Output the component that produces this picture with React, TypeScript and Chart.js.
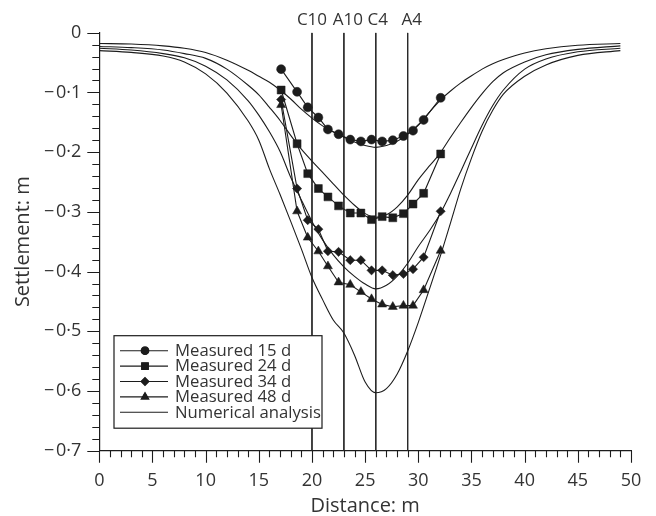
import React, { useEffect, useRef } from 'react';
import { Chart, registerables } from 'chart.js';
import { drawPoint } from 'chart.js/helpers';

Chart.register(...registerables);

// ---- data ----
const measuredX = [17.1, 18.6, 19.6, 20.6, 21.5, 22.5, 23.6, 24.6, 25.6, 26.6, 27.6, 28.6, 29.5, 30.5, 32.1];
const measured15 = [-0.061, -0.099, -0.125, -0.142, -0.162, -0.170, -0.179, -0.182, -0.179, -0.182, -0.180, -0.173, -0.164, -0.146, -0.109];
const measured24 = [-0.096, -0.186, -0.236, -0.261, -0.275, -0.290, -0.302, -0.302, -0.313, -0.308, -0.310, -0.303, -0.287, -0.269, -0.203];
const measured34 = [-0.112, -0.261, -0.314, -0.329, -0.366, -0.367, -0.381, -0.381, -0.398, -0.398, -0.406, -0.404, -0.396, -0.376, -0.299];
const measured48 = [-0.121, -0.299, -0.343, -0.366, -0.391, -0.418, -0.422, -0.434, -0.446, -0.455, -0.459, -0.457, -0.457, -0.431, -0.365];

const numX = [0, 3, 6, 8, 10, 12, 14, 15, 16, 17, 18, 19, 20, 21, 22, 23, 24, 25, 26, 27, 28, 29, 30, 31, 32, 33, 34, 35, 36, 37, 38, 40, 42, 45, 49];
const num15 = [-0.018, -0.019, -0.022, -0.026, -0.033, -0.046, -0.063, -0.073, -0.083, -0.096, -0.111, -0.128, -0.143, -0.156, -0.166, -0.175, -0.183, -0.189, -0.192, -0.189, -0.182, -0.170, -0.154, -0.134, -0.114, -0.098, -0.084, -0.072, -0.061, -0.052, -0.045, -0.034, -0.027, -0.021, -0.018];
const num24 = [-0.023, -0.025, -0.029, -0.035, -0.043, -0.061, -0.088, -0.104, -0.125, -0.147, -0.172, -0.195, -0.215, -0.234, -0.253, -0.272, -0.289, -0.303, -0.309, -0.305, -0.292, -0.272, -0.246, -0.224, -0.203, -0.176, -0.150, -0.125, -0.102, -0.082, -0.067, -0.049, -0.037, -0.028, -0.022];
const num34 = [-0.026, -0.029, -0.035, -0.042, -0.056, -0.079, -0.114, -0.138, -0.166, -0.199, -0.242, -0.280, -0.316, -0.347, -0.372, -0.392, -0.408, -0.421, -0.429, -0.423, -0.408, -0.386, -0.358, -0.333, -0.305, -0.270, -0.232, -0.193, -0.155, -0.122, -0.096, -0.061, -0.044, -0.032, -0.026];
const num48 = [-0.030, -0.033, -0.039, -0.049, -0.069, -0.101, -0.148, -0.180, -0.228, -0.271, -0.316, -0.362, -0.410, -0.447, -0.481, -0.503, -0.540, -0.585, -0.603, -0.596, -0.572, -0.533, -0.485, -0.432, -0.378, -0.320, -0.261, -0.210, -0.165, -0.130, -0.103, -0.073, -0.054, -0.038, -0.030];

const refX = [20, 23, 26, 29];
const refLabels = ['C10', 'A10', 'C4', 'A4'];
const refSpan = [0, -0.7];

const legendLabels = ['Measured 15 d', 'Measured 24 d', 'Measured 34 d', 'Measured 48 d', 'Numerical analysis'];
const seriesStyles = ['circle', 'rect', 'rectRot', 'triangle'];
const seriesRadius = [4.5, 5.6, 4.6, 5.2];

const xMin = 0, xMax = 50, xStep = 1, xLabelEvery = 5;
const yMin = -0.7, yMax = 0, yStep = 0.02;

// ---- styles ----
const FONT = '"Open Sans", "Noto Sans", sans-serif';
const INK = '#1c1c1c';
const TEXT = '#333333';
const REF_LABEL_SHIFT = [0, 4, 2, 4];

const toPts = (xs: number[], ys: number[]) => xs.map((x, i) => ({ x, y: ys[i] }));

function yLabel(v: number): string {
  const r = Math.round(v * 100);
  if (r % 10 !== 0) return '';
  if (r === 0) return '0';
  return '\u2212\u200A0\u00B7' + Math.abs(r / 10);
}
function xLabel(v: number): string {
  const r = Math.round(v);
  return r % xLabelEvery === 0 ? String(r) : '';
}

const tickPlugin = {
  id: 'customTicks',
  afterDraw(chart: any) {
    const { ctx } = chart;
    const xs = chart.scales.x;
    const ys = chart.scales.y;
    ctx.save();
    ctx.strokeStyle = INK;
    ctx.lineWidth = 1.1;
    ctx.beginPath();
    xs.ticks.forEach((t: any) => {
      const px = Math.round(xs.getPixelForValue(t.value)) + 0.5;
      const len = xLabel(t.value) ? 12 : 6.5;
      ctx.moveTo(px, xs.top);
      ctx.lineTo(px, xs.top + len);
    });
    ys.ticks.forEach((t: any) => {
      const py = Math.round(ys.getPixelForValue(t.value)) + 0.5;
      const len = yLabel(t.value) ? 12 : 7;
      ctx.moveTo(ys.right, py);
      ctx.lineTo(ys.right - len, py);
    });
    ctx.stroke();
    ctx.restore();
  },
};

const overlayPlugin = {
  id: 'overlay',
  afterDatasetsDraw(chart: any) {
    const { ctx, chartArea } = chart;
    const xs = chart.scales.x;
    ctx.save();
    // reference line labels
    ctx.fillStyle = TEXT;
    ctx.font = `17px ${FONT}`;
    ctx.textAlign = 'center';
    ctx.textBaseline = 'middle';
    refX.forEach((x, i) => {
      ctx.fillText(refLabels[i], xs.getPixelForValue(x) + REF_LABEL_SHIFT[i], chartArea.top - 13);
    });
    // legend box
    const left = chartArea.left + 14.7;
    const top = chartArea.bottom - 115;
    const w = 208;
    const h = 92.5;
    ctx.fillStyle = '#ffffff';
    ctx.fillRect(left, top, w, h);
    ctx.strokeStyle = INK;
    ctx.lineWidth = 1.2;
    ctx.strokeRect(left, top, w, h);
    legendLabels.forEach((lab, i) => {
      const cy = top + 15 + i * 15.4;
      ctx.strokeStyle = INK;
      ctx.lineWidth = 1.1;
      ctx.beginPath();
      ctx.moveTo(left + 6, cy);
      ctx.lineTo(left + 54, cy);
      ctx.stroke();
      if (i < seriesStyles.length) {
        ctx.fillStyle = INK;
        drawPoint(ctx, { pointStyle: seriesStyles[i] as any, radius: seriesRadius[i] * 0.85, borderWidth: 1, rotation: 0 } as any, left + 31, cy);
        ctx.fill();
      }
      ctx.fillStyle = TEXT;
      ctx.font = `16.7px ${FONT}`;
      ctx.textAlign = 'left';
      ctx.textBaseline = 'middle';
      ctx.fillText(lab, left + 61, cy + 0.5);
    });
    ctx.restore();
  },
};

export default function App() {
  const ref = useRef<HTMLCanvasElement | null>(null);
  useEffect(() => {
    document.body.style.margin = '0';
    const canvas = ref.current;
    if (!canvas) return;

    const numericalSets = [num15, num24, num34, num48].map((ys) => ({
      label: 'Numerical analysis',
      data: toPts(numX, ys),
      borderColor: INK,
      borderWidth: 1.1,
      pointRadius: 0,
      cubicInterpolationMode: 'monotone' as const,
      fill: false,
    }));
    const measuredSets = [measured15, measured24, measured34, measured48].map((ys, i) => ({
      label: legendLabels[i],
      data: toPts(measuredX, ys),
      borderColor: INK,
      borderWidth: 1.1,
      pointStyle: seriesStyles[i] as any,
      pointRadius: seriesRadius[i],
      pointBackgroundColor: INK,
      pointBorderColor: INK,
      pointBorderWidth: 0.5,
      tension: 0,
      fill: false,
    }));
    const refSets = refX.map((x, i) => ({
      label: refLabels[i],
      data: refSpan.map((y) => ({ x, y })),
      borderColor: '#2a2a2a',
      borderWidth: 1,
      pointRadius: 0,
      fill: false,
    }));

    const tickFont = { family: FONT, size: 18 };
    const titleFont = { family: FONT, size: 20, lineHeight: 1 };
    const chart = new Chart(canvas, {
      type: 'line',
      data: { datasets: [...measuredSets, ...numericalSets, ...refSets] as any },
      options: {
        responsive: false,
        animation: false,
        events: [],
        layout: { padding: { top: 32.7, right: 25, left: 0, bottom: 0 } },
        plugins: { legend: { display: false }, tooltip: { enabled: false } },
        scales: {
          x: {
            type: 'linear',
            position: 'bottom',
            min: xMin,
            max: xMax,
            afterFit: (s: any) => { s.height = 65.3; },
            ticks: {
              stepSize: xStep,
              autoSkip: false,
              maxRotation: 0,
              padding: 7,
              font: tickFont,
              color: TEXT,
              callback: (v: any) => xLabel(Number(v)),
            },
            grid: { display: false, drawTicks: true, tickLength: 12 },
            border: { display: true, color: INK, width: 1.2 },
            title: { display: true, text: 'Distance: m', font: titleFont, color: TEXT, padding: { top: 0, bottom: 0 } },
          },
          y: {
            type: 'linear',
            min: yMin,
            max: yMax,
            afterFit: (s: any) => { s.width = 99.3; },
            ticks: {
              stepSize: yStep,
              autoSkip: false,
              padding: 6,
              font: tickFont,
              color: TEXT,
              callback: (v: any) => yLabel(Number(v)),
            },
            grid: { display: false, drawTicks: true, tickLength: 12 },
            border: { display: true, color: INK, width: 1.2 },
            title: { display: true, text: 'Settlement: m', font: titleFont, color: TEXT, padding: { top: 13, bottom: 0 } },
          },
        },
      },
      plugins: [tickPlugin, overlayPlugin],
    });
    return () => chart.destroy();
  }, []);

  return (
    <div style={{ width: 656, height: 516, background: '#fff' }}>
      <canvas ref={ref} width={656} height={516} />
    </div>
  );
}
